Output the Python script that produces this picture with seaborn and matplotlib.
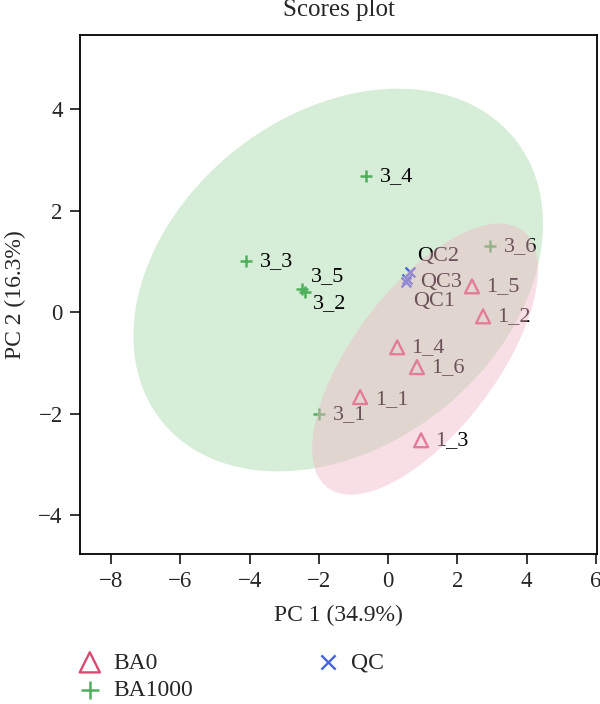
#!/usr/bin/env python3

import numpy as np
import pandas as pd
import matplotlib
matplotlib.use("Agg")
import matplotlib.pyplot as plt
from matplotlib.patches import Ellipse
import seaborn as sns

# ---- data ----
ba0_names = ["1_1", "1_2", "1_3", "1_4", "1_5", "1_6"]
ba0_pc1 = [-0.81, 2.74, 0.95, 0.26, 2.42, 0.83]
ba0_pc2 = [-1.67, -0.08, -2.52, -0.69, 0.51, -1.08]

ba1000_names = ["3_1", "3_2", "3_3", "3_4", "3_5", "3_6"]
ba1000_pc1 = [-1.99, -2.39, -4.10, -0.64, -2.48, 2.94]
ba1000_pc2 = [-2.01, 0.39, 1.00, 2.68, 0.45, 1.30]

qc_names = ["QC1", "QC2", "QC3"]
qc_pc1 = [0.52, 0.63, 0.55]
qc_pc2 = [0.59, 0.79, 0.65]

groups = ["BA0", "BA1000", "QC"]
pc1_label = "PC 1 (34.9%)"
pc2_label = "PC 2 (16.3%)"

df = pd.concat([
    pd.DataFrame({"name": ba0_names, "PC1": ba0_pc1, "PC2": ba0_pc2, "group": "BA0"}),
    pd.DataFrame({"name": ba1000_names, "PC1": ba1000_pc1, "PC2": ba1000_pc2, "group": "BA1000"}),
    pd.DataFrame({"name": qc_names, "PC1": qc_pc1, "PC2": qc_pc2, "group": "QC"}),
], ignore_index=True)

# label nudges in pixels (like ggrepel would place them)
label_offset = {
    "3_5": (9, 13), "3_2": (8, -11), "QC2": (7, 16), "QC3": (13, -3), "QC1": (7, -19),
    "1_1": (15, -3),
}

colors = {"BA0": "#D94A73", "BA1000": "#4DAF5B", "QC": "#4563DB"}

sns.set_theme(style="ticks")
plt.rcParams["font.family"] = ["Liberation Serif", "DejaVu Serif"]
plt.rcParams["axes.linewidth"] = 1.3
plt.rcParams["xtick.major.width"] = 1.3
plt.rcParams["ytick.major.width"] = 1.3
plt.rcParams["xtick.major.size"] = 7.5
plt.rcParams["ytick.major.size"] = 7.5
plt.rcParams["axes.edgecolor"] = "black"

fig = plt.figure(figsize=(6, 7.04), dpi=100)
ax = fig.add_axes([80/600, 1 - 554/704, 517/600, 519/704])


# 95% confidence ellipse from the group covariance
def conf_ellipse(x, y, **kw):
    x = np.asarray(x)
    y = np.asarray(y)
    cov = np.cov(x, y)
    vals, vecs = np.linalg.eigh(cov)
    k = np.sqrt(-2 * np.log(0.05))
    angle = np.degrees(np.arctan2(vecs[1, 1], vecs[0, 1]))
    return Ellipse((x.mean(), y.mean()), 2 * k * np.sqrt(vals[1]), 2 * k * np.sqrt(vals[0]),
                   angle=angle, **kw)


ax.add_patch(conf_ellipse(ba1000_pc1, ba1000_pc2, facecolor="#D6EED8", edgecolor="none", zorder=1))

sub = df[df.group == "BA0"]
sns.scatterplot(data=sub, x="PC1", y="PC2", marker="^", s=100, facecolor="none",
                edgecolor=colors["BA0"], linewidth=1.7, label="BA0", ax=ax, zorder=3)
sub = df[df.group == "BA1000"]
sns.scatterplot(data=sub, x="PC1", y="PC2", marker="+", s=75, color=colors["BA1000"],
                linewidth=1.8, label="BA1000", ax=ax, zorder=3)
sub = df[df.group == "QC"]
sns.scatterplot(data=sub, x="PC1", y="PC2", marker="x", s=50, color=colors["QC"],
                linewidth=1.7, label="QC", ax=ax, zorder=3)

for _, row in df.iterrows():
    dx, dy = label_offset.get(row["name"], (14, 0))
    ax.annotate(row["name"], (row["PC1"], row["PC2"]), xytext=(dx, dy), textcoords="offset pixels",
                ha="left", va="center", fontsize=16, color="black", zorder=4)

# BA0 region drawn on top, translucent
ax.add_patch(conf_ellipse(ba0_pc1, ba0_pc2, facecolor="#F0B8C8", alpha=0.45, edgecolor="none", zorder=5))

ax.set_xlim(-8.9, 6.03)
ax.set_ylim(-4.76, 5.46)
ax.set_xticks([-8, -6, -4, -2, 0, 2, 4, 6])
ax.set_yticks([-4, -2, 0, 2, 4])
ax.tick_params(labelsize=16.5, pad=5)
ax.set_xlabel(pc1_label, fontsize=17, labelpad=9)
ax.set_ylabel(pc2_label, fontsize=17, labelpad=9)
ax.set_title("Scores plot", fontsize=18, pad=14)
for s in ax.spines.values():
    s.set_visible(True)

handles, labels = ax.get_legend_handles_labels()
ax.get_legend().remove()
fig.legend(handles, labels, loc="upper left", bbox_to_anchor=(78/600, 1 - 652/704), ncol=2,
           frameon=False, fontsize=17, markerscale=1.45, handlelength=1.0, handletextpad=0.5,
           columnspacing=5.2, labelspacing=0.25, borderpad=0, borderaxespad=0)

fig.savefig("out.png", dpi=100)
